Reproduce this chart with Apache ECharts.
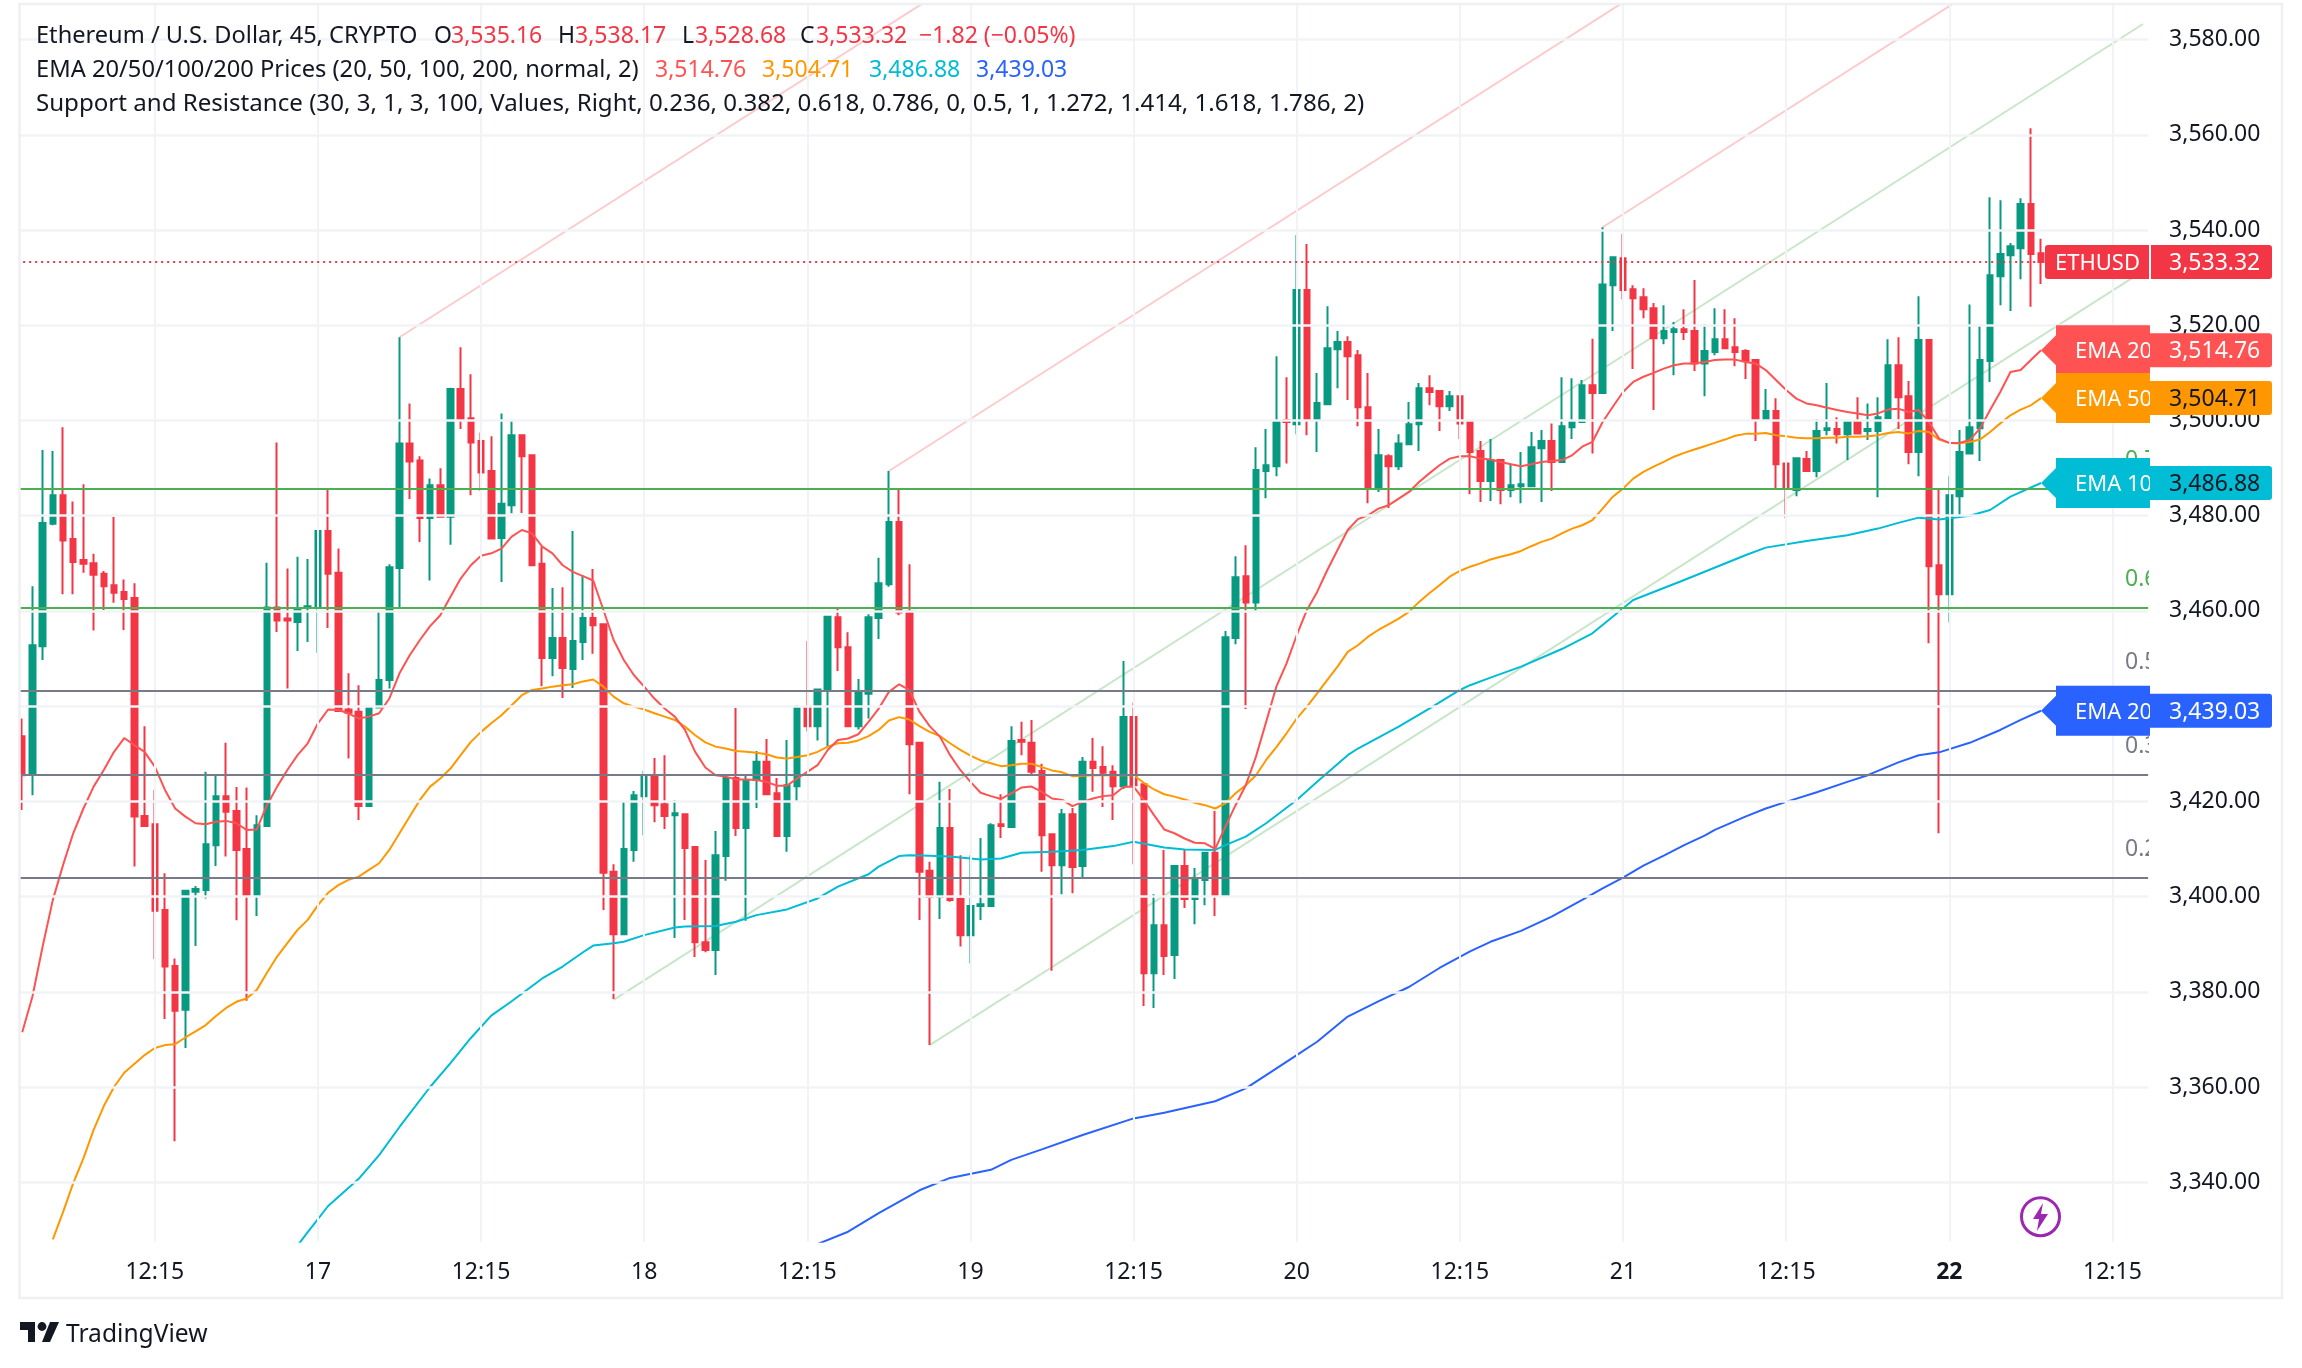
<!DOCTYPE html>
<html>
<head>
<meta charset="utf-8">
<title>ETHUSD 45</title>
<script src="https://cdn.jsdelivr.net/npm/echarts@6/dist/echarts.min.js"></script>
<style>
  html, body { margin: 0; padding: 0; background: #fff; }
  #chart { width: 2302px; height: 1368px; }
</style>
</head>
<body>
<div id="chart"></div>
<script>
// 45 minute candles
const opens = [
  3433.7,3425.7,3452.6,3478.3,3484.3,3475.1,3470.7,3470,3467.8,3465.4,3464,3462.7,3416.9,3415.2,3397.2,3385.4,3376.2,3401,3401.4,3410.8,
  3421.1,3418,3410,3400.3,3414.8,3460.7,3458.4,3457.7,3460.6,3460.6,3476.8,3468,3439.3,3438.8,3419,3439.7,3445.5,3469,3495.2,3491.6,
  3479.5,3486.4,3479.8,3506.6,3500.5,3495.7,3489.4,3475.3,3482.2,3496.9,3492.7,3469.9,3450.1,3454.3,3447.8,3453.5,3458.5,3457.2,3405.2,3392.1,
  3409.8,3421.1,3425.1,3419.4,3417.1,3417.3,3410.4,3390.4,3388.8,3408.5,3424.9,3414.4,3424.5,3428.3,3421.7,3412.7,3423.2,3439.9,3435.8,3443.2,
  3458.7,3452.4,3435.8,3442.6,3458.5,3465.6,3478.7,3459.9,3432.3,3405.4,3399.9,3414.4,3399.5,3391.9,3398,3398,3415.2,3414.6,3432.9,3432.3,
  3426.4,3413.1,3406.6,3417.3,3406.4,3428.3,3427.2,3426.2,3423.2,3437.7,3423.6,3383.9,3394,3387.7,3406.4,3399.5,3403.5,3409.2,3400.3,3454.3,
  3467.3,3461.8,3489.4,3490.4,3500.1,3499.2,3527.4,3500.3,3503.4,3515,3516.5,3513.7,3502.8,3486,3492.5,3490.4,3495,3499.2,3506.8,3506.2,
  3503,3505.1,3499.7,3493.6,3487.3,3491.7,3485.4,3486.2,3486.2,3494.2,3495.7,3491.3,3498.6,3499.7,3507.4,3505.8,3528.4,3534.1,3527.6,3525.9,
  3523.6,3517.3,3518.6,3519.2,3518.8,3512,3514.4,3517.1,3515.4,3514.6,3512.7,3500.1,3502,3491,3485.4,3491.9,3489.4,3498,3498.2,3497.1,
  3499.7,3497.8,3497.8,3500.5,3511.6,3505.1,3493.4,3516.9,3469.6,3463.5,3484.1,3493.1,3498.4,3512.5,3530.3,3534.7,3536.2,3545.5,3535.16
];
const closes = [
  3425.5,3452.8,3478.5,3484.3,3474.8,3470.3,3469.9,3467.6,3465.2,3463.8,3462.5,3416.8,3414.8,3397,3385.3,3376,3401.2,3401.6,3411,3421.1,
  3417.8,3409.8,3400.3,3415,3460.7,3458,3458,3460.5,3461,3476.8,3467.8,3439,3438.6,3419,3439.8,3445.5,3469.2,3495.2,3491.4,3479.5,
  3486.4,3479.8,3506.6,3500.3,3495.4,3489.1,3475.2,3482.5,3496.9,3492.5,3469.6,3450.1,3454.3,3448,3453.7,3458.5,3457,3405,3392.1,3410,
  3421.3,3425.1,3419.2,3416.9,3417.5,3410.2,3390.4,3388.8,3408.7,3424.9,3414.4,3424.5,3428.3,3421.5,3412.7,3423.4,3439.8,3435.8,3443.5,3458.8,
  3452.4,3435.8,3442.8,3458.7,3465.8,3478.7,3459.7,3432,3405.2,3399.9,3414.4,3399.3,3391.9,3398,3398.4,3415,3414.8,3432.7,3432.5,3426.2,
  3412.9,3406.6,3417.3,3406.2,3428.3,3427,3426,3423.2,3437.7,3423.4,3383.9,3394,3387.5,3406.4,3399.5,3403.7,3409.2,3400.3,3454.5,3467.1,
  3461.8,3489.6,3490.6,3499.9,3499.7,3527.4,3500.3,3503.7,3515.2,3516.5,3513.5,3502.8,3486,3492.7,3490.4,3495.2,3499.2,3506.8,3506,3503,
  3505.1,3499.4,3493.4,3487.3,3491.7,3485.4,3486.4,3486.6,3494.4,3495.7,3491.3,3498.8,3499.9,3507.4,3505.8,3528.6,3534.3,3527.4,3525.7,3523.4,
  3517.3,3518.8,3519.2,3518.6,3512,3514.6,3517.1,3515.2,3514.4,3512.5,3500.1,3502,3490.8,3485.6,3492.1,3489.4,3497.8,3498.4,3497.1,3499.7,
  3497.3,3498.2,3500.7,3511.6,3504.9,3493.4,3516.9,3469.4,3463.5,3484.3,3493.4,3498.6,3512.7,3530.5,3535,3536.6,3545.5,3535,3533.32
];
const lows = [
  3418.2,3421.3,3449.7,3478,3463.5,3463.5,3468,3455.9,3460.2,3461.7,3456,3406.3,3414.8,3386.9,3374.3,3348.6,3368.2,3389.6,3399.6,3406.4,
  3408.4,3395,3378.1,3395.9,3414.7,3455.6,3443.7,3451.6,3453.5,3451.2,3456.4,3439,3429,3416.1,3418.9,3439.7,3443.7,3460.5,3483.5,3474.5,
  3466.4,3479.8,3473.9,3498.2,3484.3,3485.2,3475.1,3466.1,3480.5,3480.6,3469.4,3444.2,3446.3,3441.7,3443.8,3449.7,3451,3397.2,3378.5,3392.1,
  3407.3,3412.9,3415.6,3414.2,3391.3,3395.1,3387.3,3388.3,3383.5,3403.3,3412.7,3394.9,3418.6,3421.5,3412.7,3409.4,3419.9,3434.6,3432.8,3431.6,
  3447.4,3435.8,3435.1,3437.4,3454.1,3465.1,3459.1,3421.5,3395.1,3368.8,3395.3,3398.9,3389.5,3386,3395.1,3398,3412.3,3414.6,3429.7,3425.7,
  3405.2,3384.4,3400.5,3400.7,3403.9,3422,3418.8,3416.1,3422.6,3406.8,3377,3376.6,3383.5,3382.7,3397.6,3394.2,3398.2,3395.9,3399.9,3453,
  3439.4,3460,3483.7,3488.3,3491,3497.1,3496.9,3493.4,3503.4,3506.8,3504.3,3498.8,3482.6,3485,3481.6,3489.6,3494.8,3493.6,3503.2,3497.8,
  3502,3496.1,3484.5,3482.9,3483.1,3482.4,3483.9,3482.6,3486,3482.9,3485.2,3491.3,3496.1,3499.7,3493.1,3505.6,3518.8,3525.5,3510.8,3521.5,
  3502.2,3516,3509.5,3516.9,3510.4,3505.1,3513.7,3515.2,3511.4,3508.7,3495.7,3500.1,3485.6,3479.5,3484.1,3489.4,3488.1,3496.9,3495.2,3491.7,
  3497.3,3495.9,3483.9,3500.5,3498.2,3490.8,3488.3,3453.2,3413.3,3457.6,3479.5,3493.1,3491.5,3508.1,3524.2,3523,3529.7,3523.9,3528.68
];
const highs = [
  3437.4,3465.2,3493.8,3493.6,3498.6,3483,3486.6,3472,3468.4,3479.8,3466.6,3465.8,3435.8,3422.4,3404.9,3387,3401.4,3402.2,3426.2,3425.5,
  3432.3,3423,3422.9,3417.1,3470.1,3495.4,3468.9,3471.4,3470.9,3477,3485.4,3473.1,3446.9,3444.4,3439.8,3460,3469.8,3517.5,3503.6,3492.5,
  3487.8,3490,3506.9,3515.4,3509.7,3497.5,3496.7,3501.5,3500,3496.9,3492.9,3473.5,3464.8,3465,3476.8,3467.5,3468.8,3457.2,3406.8,3420,
  3422.2,3426.4,3429.1,3429.7,3420.3,3417.5,3410.4,3407.7,3413.8,3424.9,3439.6,3425.5,3430.6,3433.1,3424.9,3432.9,3440.2,3453.7,3443.7,3458.9,
  3460.7,3455.5,3445.7,3459.3,3471.2,3489.4,3485.8,3469.8,3432.3,3407.3,3424.1,3422.6,3408.7,3408.7,3412.3,3415.4,3421.5,3435.8,3436.7,3437.1,
  3427.9,3413.1,3418.4,3418.6,3429.3,3433.3,3431.6,3427.6,3449.5,3440.7,3423.6,3400.5,3409.8,3406.4,3409.8,3406,3409.4,3418,3455.8,3471.5,
  3473.8,3494.4,3498.2,3513.5,3509.1,3539,3537.1,3510,3524,3518.8,3517.7,3514.8,3510,3498.2,3492.9,3497.1,3503.9,3507.9,3509.5,3506.2,
  3506.2,3505.1,3499.9,3495.7,3496.1,3491.7,3491,3493.4,3497.6,3498,3499.4,3509.1,3508.9,3508.5,3517.2,3540.6,3534.3,3539.2,3528.4,3527.8,
  3524.7,3524.2,3520.7,3523.4,3529.5,3520.2,3523.6,3523.4,3521.5,3515,3512.7,3506.6,3504.7,3491,3492.1,3493.6,3500.3,3507.9,3500.7,3499.7,
  3504.9,3503.6,3504.9,3517.1,3517.5,3508.3,3526.1,3516.9,3485.6,3488.3,3498,3524.4,3520,3546.9,3546.3,3537.3,3546.7,3561.4,3538.17
];

// EMA lines, ema20 has one value per candle, the others are [bar, value]
const ema20 = [
  3371.5,3379,3389.5,3399.3,3406.6,3413.3,3418.5,3423.1,3426.6,3430.4,3433.3,3431.8,3430.4,3427.3,3422.4,3418.5,3416.8,3415.4,3415.2,3415.7,
  3415.9,3415.4,3414,3414.1,3419.2,3423.1,3426.6,3429.7,3432.2,3436.4,3439.3,3439.2,3438.5,3437.4,3437.8,3438.5,3441.6,3446.9,3450.7,3453.9,
  3456.8,3459.1,3463,3466.8,3469.6,3471.6,3472.1,3473.1,3475.6,3477,3476.3,3473.5,3472.1,3469.6,3468.2,3467.3,3466.4,3460.2,3453.9,3449.7,
  3446.5,3444.1,3441.6,3439.5,3437.8,3435,3430.4,3427.1,3425.5,3425.2,3424.6,3424.6,3424.5,3424.1,3423.3,3423.3,3424.8,3426.2,3427.6,3430.8,
  3432.9,3433.2,3434.1,3436.7,3439.5,3443,3444.6,3443.4,3438.8,3435.8,3433.6,3429.7,3426.6,3424.1,3421.8,3421.1,3420.5,3421.7,3422.9,3423.1,
  3422,3420.6,3420.3,3419,3419.9,3420.6,3421.1,3421.3,3423,3423.1,3420.3,3417.1,3414.1,3413.3,3412.2,3411.3,3411.2,3410,3414.7,3419.2,
  3423.4,3429.4,3436.7,3444.1,3449,3454.9,3460.2,3464,3468.6,3472.8,3477,3479.3,3480.1,3481.5,3482.2,3483.6,3485,3487.1,3488.9,3490.6,
  3492,3492.5,3492.5,3492,3491.8,3491.3,3490.8,3490.4,3490.8,3491.3,3491.5,3491.7,3492.7,3494.5,3495.5,3499.7,3502.9,3506,3508.1,3509.2,
  3510,3510.9,3511.6,3512,3512,3512.3,3512.7,3512.8,3512.8,3512.3,3512,3510.6,3508.5,3506.4,3504.6,3503.6,3503.2,3502.7,3502.2,3501.8,
  3501.5,3501.1,3501.5,3502.3,3502.5,3501.8,3502.2,3499.7,3496.2,3495.3,3495.3,3495.9,3498.3,3502.2,3506,3510.2,3510.6,3512.7,3514.76
];
const ema50 = [
  [3,3328],[4,3333.7],[5,3339.8],[6,3345],[7,3351],[8,3356],[9,3360],[10,3363],[12,3366.7],[13,3368.2],[14,3368.8],[15,3369],[16,3370.4],[17,3371.7],[18,3373],
  [19,3374.9],[20,3376.6],[21,3377.9],[22,3378.6],[23,3380.4],[24,3384],[25,3387.4],[26,3390.2],[27,3393],[28,3395.1],[29,3398.2],[30,3400.8],[31,3402.4],[32,3403.5],
  [33,3404.2],[34,3405.6],[35,3407],[36,3409.8],[37,3413.3],[38,3416.8],[39,3420.3],[40,3423.1],[41,3424.8],[42,3426.9],[43,3429.7],[44,3432.5],[45,3434.6],[46,3436.4],
  [47,3438.1],[48,3440.2],[49,3442.3],[50,3443.4],[51,3443.7],[52,3444.1],[53,3444.4],[54,3444.6],[55,3445.2],[56,3445.6],[57,3444.1],[58,3442],[59,3440.6],[60,3439.9],
  [61,3439.3],[62,3438.5],[63,3437.8],[64,3437.1],[65,3435.7],[66,3433.9],[67,3432.4],[68,3431.5],[69,3431.1],[70,3430.6],[71,3430.4],[72,3430.2],[73,3429.9],[74,3429.2],
  [75,3429],[76,3429.3],[77,3429.7],[78,3430.4],[79,3431.5],[80,3432.2],[81,3432.3],[82,3432.8],[83,3433.7],[84,3435],[85,3437],[86,3437.7],[87,3437.2],[88,3435.8],
  [89,3434.6],[90,3433.7],[91,3432.2],[92,3430.8],[93,3429.6],[94,3428.6],[95,3428],[96,3427.4],[97,3427.6],[98,3427.9],[99,3427.9],[100,3427.2],[101,3426.5],[102,3426.1],
  [103,3425.3],[104,3425.4],[105,3425.5],[106,3425.5],[107,3425.5],[108,3425.5],[109,3425.5],[110,3423.9],[111,3422.5],[112,3421.5],[113,3421],[114,3420.4],[115,3419.7],
  [116,3419.2],[117,3418.5],[118,3419.6],[119,3421.7],[120,3423.4],[121,3425.5],[122,3428.7],[123,3431.4],[124,3434.3],[125,3437.4],[126,3439.9],[127,3442.7],[128,3445.5],
  [129,3448.3],[130,3451.4],[131,3452.8],[132,3454.6],[133,3456],[134,3457.2],[135,3458.4],[136,3459.8],[137,3461.9],[138,3463.7],[139,3465.4],[140,3467.2],[141,3468.4],
  [142,3469.3],[143,3470],[144,3470.8],[145,3471.4],[146,3471.9],[147,3472.6],[148,3473.6],[149,3474.5],[150,3475.2],[151,3476.3],[152,3477.3],[153,3478],[154,3479.1],
  [155,3481.5],[156,3484],[157,3485.7],[158,3487.8],[159,3489.2],[160,3490.3],[161,3491.3],[162,3492.4],[163,3493.2],[164,3493.9],[165,3494.6],[166,3495.3],[167,3496],
  [168,3496.8],[169,3497.2],[170,3497.2],[171,3497.4],[172,3496.9],[173,3496.7],[174,3496.4],[175,3496.3],[176,3496.3],[177,3496.4],[178,3496.4],[179,3496.6],[180,3496.6],
  [181,3496.7],[182,3496.9],[183,3497.4],[184,3497.6],[185,3497.3],[186,3497.8],[187,3497.6],[188,3496],[189,3495.3],[190,3495.2],[191,3495.5],[192,3496],[193,3497.6],
  [194,3499.4],[195,3501.1],[196,3502.3],[197,3503.2],[198,3504.71]
];
const ema100 = [
  [27,3326.7],[28,3329.5],[30,3335],[33,3340.7],[35,3345.7],[37,3351.6],[40,3360],[42,3365],[44,3370.3],[46,3375],[48,3378],[51,3382.8],[53,3385.3],[55,3388.3],[56,3389.7],
  [58,3390.2],[59,3390.5],[61,3391.9],[64,3393.5],[65,3393.7],[68,3393.8],[70,3394.7],[72,3396.1],[75,3397.3],[78,3399.6],[80,3402.1],[83,3404.7],[84,3406.3],[86,3408.5],
  [87,3408.7],[89,3408.6],[91,3408.4],[94,3407.8],[96,3408],[98,3409.2],[101,3409.4],[104,3409.8],[107,3410.6],[109,3411.5],[112,3410.3],[114,3409.9],[117,3409.8],[118,3410.8],
  [120,3412.6],[122,3415.4],[125,3420.3],[127,3424.1],[130,3429.7],[131,3431.1],[135,3435.7],[138,3439.5],[141,3443.4],[142,3444.4],[144,3446],[147,3448.3],[151,3452],
  [154,3455.3],[158,3462.3],[163,3466.5],[169,3471.7],[171,3473.3],[175,3474.7],[179,3475.9],[182,3477.3],[184,3478.5],[186,3479.6],[188,3479.2],[191,3480],[193,3481.2],
  [195,3484],[198,3486.88]
];
const ema200 = [
  [78,3327],[81,3329.6],[84,3333.5],[88,3338.3],[91,3340.9],[95,3342.6],[97,3344.7],[100,3346.9],[104,3349.9],[109,3353.4],[112,3354.6],[117,3357],[120,3359.7],[122,3362.5],
  [125,3366.7],[127,3369.5],[130,3374.8],[133,3378],[136,3381],[139,3385],[142,3388.5],[144,3390.5],[147,3392.8],[150,3395.8],[153,3399.3],[155,3401.7],[157,3404],[159,3406.5],
  [161,3408.6],[163,3410.8],[165,3412.8],[166,3414],[169,3416.8],[171,3418.5],[173,3419.9],[176,3421.9],[179,3424.1],[181,3425.5],[184,3428.2],[186,3429.7],[188,3430.3],
  [191,3432.3],[194,3435],[196,3437.1],[198,3439.03]
];

// Diagonal channel lines, [bar, value] ends, they run out of the pane
const resistanceLines = [
  [[37,3517.5],[100,3603.6]],
  [[85,3489.4],[170,3605.6]],
  [[155,3540.6],[208,3613]]
];
const supportLines = [
  [[58,3378.3],[208,3583.3]],
  [[89,3368.8],[208,3531.4]]
];

// Horizontal levels of the indicator
const levelValues = [3485.6, 3460.6, 3443.2, 3425.5, 3403.9];
const levelLabels = ['0.786', '0.618', '0.5', '0.382', '0.236'];
const levelColors = ['#4caf50', '#4caf50', '#787b86', '#787b86', '#787b86'];

// Axes
const priceTicks = [3340,3360,3380,3400,3420,3440,3460,3480,3500,3520,3540,3560,3580];
const timeTickBars = [13,29,45,61,77,93,109,125,141,157,173,189,205];
const timeTickLabels = ['12:15','17','12:15','18','12:15','19','12:15','20','12:15','21','12:15','22','12:15'];
const barCount = 209;
const categories = [];
for (let i = 0; i < barCount; i++) {
  const t = timeTickBars.indexOf(i);
  categories.push(t >= 0 ? timeTickLabels[t] : 'b' + i);
}

// Price tags at the right edge
const lastPrice = 3533.32;
const tagNames = ['EMA 200', 'EMA 100', 'EMA 20', 'EMA 50'];
const tagValues = [3439.03, 3486.88, 3514.76, 3504.71];
const tagColors = ['#2962ff', '#00bcd4', '#ff5252', '#ff9800'];
const tagValueText = ['#ffffff', '#131722', '#ffffff', '#131722'];

const FONT = '"Noto Sans", sans-serif';
const TEXT = '#131722';
const UP = '#089981';
const DOWN = '#f23645';
const GRID_LINE = '#f2f3f6';
const TEXT_DROP = 1.5; // Noto sits a bit high in the middle of its box

const chart = echarts.init(document.getElementById('chart'));

function fmt(v) {
  return v.toLocaleString('en-US', { minimumFractionDigits: 2, maximumFractionDigits: 2 });
}

function legendText(x, y, text, fill, size) {
  return {
    type: 'text', x: x, y: y + TEXT_DROP, z: 100,
    style: { text: text, fill: fill || TEXT, font: (size || 23) + 'px ' + FONT, textVerticalAlign: 'middle' }
  };
}

function renderTag(params, api) {
  const i = params.dataIndex;
  const y = api.coord([api.value(0), api.value(1)])[1];
  const c = tagColors[i];
  return {
    type: 'group',
    children: [
      {
        type: 'polygon',
        shape: { points: [[2041, y], [2056, y - 15], [2056, y - 25], [2150, y - 25], [2150, y + 25], [2056, y + 25], [2056, y + 15]] },
        style: { fill: c }
      },
      {
        type: 'text',
        style: { text: tagNames[i], x: 2075, y: y + TEXT_DROP, fill: '#fff', font: '22px ' + FONT, textVerticalAlign: 'middle' }
      },
      {
        type: 'rect',
        shape: { x: 2150, y: y - 17, width: 122, height: 34, r: [0, 3, 3, 0] },
        style: { fill: c }
      },
      {
        type: 'text',
        style: { text: fmt(tagValues[i]), x: 2169, y: y + TEXT_DROP, fill: tagValueText[i], font: '23px ' + FONT, textVerticalAlign: 'middle' }
      }
    ]
  };
}

function renderLastPrice(params, api) {
  const y = api.coord([api.value(0), api.value(1)])[1];
  return {
    type: 'group',
    children: [
      { type: 'rect', shape: { x: 2045, y: y - 17, width: 104, height: 34, r: [3, 0, 0, 3] }, style: { fill: DOWN } },
      { type: 'text', style: { text: 'ETHUSD', x: 2055, y: y + TEXT_DROP, fill: '#fff', font: '22px ' + FONT, textVerticalAlign: 'middle' } },
      { type: 'rect', shape: { x: 2151, y: y - 17, width: 121, height: 34, r: [0, 3, 3, 0] }, style: { fill: DOWN } },
      { type: 'text', style: { text: fmt(lastPrice), x: 2169, y: y + TEXT_DROP, fill: '#fff', font: '23px ' + FONT, textVerticalAlign: 'middle' } }
    ]
  };
}

function renderLevelLabel(params, api) {
  const i = params.dataIndex;
  const y = api.coord([api.value(0), api.value(1)])[1];
  return {
    type: 'text',
    style: { text: levelLabels[i], x: 2125, y: y - 30 + TEXT_DROP, fill: levelColors[i], font: '23px ' + FONT, textVerticalAlign: 'middle' }
  };
}

const option = {
  backgroundColor: '#ffffff',
  animation: false,
  grid: { left: 17.15, top: 4, width: 2130.96, height: 1237.7 },
  xAxis: {
    type: 'category',
    data: categories,
    boundaryGap: true,
    axisLine: { show: false },
    axisTick: { show: false },
    splitLine: { show: false },
    axisLabel: {
      color: TEXT,
      fontFamily: FONT,
      fontSize: 23,
      margin: 19,
      hideOverlap: false,
      interval: (index) => timeTickBars.indexOf(index) >= 0,
      formatter: (value) => (value === '22' ? '{b|22}' : value),
      rich: { b: { fontFamily: FONT, fontSize: 23, fontWeight: 'bold', color: TEXT } }
    }
  },
  yAxis: {
    type: 'value',
    position: 'right',
    min: 3327.5,
    max: 3587.5,
    axisLine: { show: false },
    axisTick: { show: false },
    splitLine: { show: false },
    axisLabel: {
      customValues: priceTicks,
      color: TEXT,
      fontFamily: FONT,
      fontSize: 23,
      margin: 21,
      padding: [3, 0, 0, 0],
      formatter: (v) => fmt(v)
    }
  },
  graphic: [
    { type: 'rect', z: 90, shape: { x: 0, y: 0, width: 19, height: 1300 }, style: { fill: '#fff' } },
    { type: 'rect', z: 91, shape: { x: 19.5, y: 4, width: 2262.5, height: 1294 }, style: { fill: 'none', stroke: '#eff0f4', lineWidth: 2.5 } },
    legendText(36, 35, 'Ethereum / U.S. Dollar, 45, CRYPTO', TEXT, 23.6),
    legendText(434, 35, 'O'),
    legendText(451, 35, '3,535.16', DOWN),
    legendText(558, 35, 'H'),
    legendText(575, 35, '3,538.17', DOWN),
    legendText(682, 35, 'L'),
    legendText(695, 35, '3,528.68', DOWN),
    legendText(800, 35, 'C'),
    legendText(816, 35, '3,533.32', DOWN),
    legendText(919, 35, '\u22121.82 (\u22120.05%)', DOWN),
    legendText(36, 69, 'EMA 20/50/100/200 Prices (20, 50, 100, 200, normal, 2)', TEXT, 23.7),
    legendText(655, 69, '3,514.76', '#ff5252'),
    legendText(762, 69, '3,504.71', '#ff9800'),
    legendText(869, 69, '3,486.88', '#00bcd4'),
    legendText(976, 69, '3,439.03', '#2962ff'),
    legendText(36, 103, 'Support and Resistance (30, 3, 1, 3, 100, Values, Right, 0.236, 0.382, 0.618, 0.786, 0, 0.5, 1, 1.272, 1.414, 1.618, 1.786, 2)', TEXT, 24.1),
    // TradingView mark and name
    { type: 'polygon', z: 100, shape: { points: [[20, 1322], [35, 1322], [35, 1342], [28, 1342], [28, 1330], [20, 1330]] }, style: { fill: TEXT } },
    { type: 'polygon', z: 100, shape: { points: [[50, 1322], [59, 1322], [50, 1342], [42, 1342]] }, style: { fill: TEXT } },
    { type: 'circle', z: 100, shape: { cx: 42, cy: 1326.5, r: 4.4 }, style: { fill: TEXT } },
    { type: 'text', z: 100, x: 66, y: 1334.5, style: { text: 'TradingView', fill: TEXT, font: '24.6px ' + FONT, textVerticalAlign: 'middle' } },
    // lightning badge
    { type: 'circle', z: 100, shape: { cx: 2040.5, cy: 1216.7, r: 19 }, style: { fill: '#fff', stroke: '#9c27b0', lineWidth: 3 } },
    {
      type: 'polygon', z: 100,
      shape: { points: [[2043, 1203], [2033, 1219], [2039, 1219], [2037, 1231], [2048, 1214], [2041, 1214]] },
      style: { fill: '#9c27b0' }
    }
  ],
  series: [
    {
      // vertical and horizontal grid plus the levels, under the candles
      type: 'line',
      z: 1,
      data: [],
      markLine: {
        silent: true,
        symbol: 'none',
        label: { show: false },
        animation: false,
        data: timeTickBars.map((b) => ({ xAxis: b, lineStyle: { color: GRID_LINE, width: 2, type: 'solid' } }))
          .concat(priceTicks.map((v) => ({ yAxis: v, lineStyle: { color: GRID_LINE, width: 2.5, type: 'solid' } })))
          .concat(levelValues.map((v, i) => ({ yAxis: v, lineStyle: { color: levelColors[i], width: 2, type: 'solid' } })))
      }
    },
    ...resistanceLines.map((d) => ({
      type: 'line', z: 2, data: d, symbol: 'none', lineStyle: { color: '#fccbcd', width: 2 }
    })),
    ...supportLines.map((d) => ({
      type: 'line', z: 2, data: d, symbol: 'none', lineStyle: { color: '#c8e6c9', width: 2 }
    })),
    {
      type: 'candlestick',
      z: 3,
      barWidth: 6,
      data: opens.map((o, i) => [o, closes[i], lows[i], highs[i]]),
      itemStyle: { color: UP, color0: DOWN, borderColor: UP, borderColor0: DOWN, borderWidth: 2 }
    },
    { type: 'line', z: 4, data: ema200, symbol: 'none', lineStyle: { color: '#2962ff', width: 2 } },
    { type: 'line', z: 4, data: ema100, symbol: 'none', lineStyle: { color: '#00bcd4', width: 2 } },
    { type: 'line', z: 4, data: ema50, symbol: 'none', lineStyle: { color: '#ff9800', width: 2 } },
    { type: 'line', z: 4, data: ema20.map((v, i) => [i, v]), symbol: 'none', lineStyle: { color: '#ff5252', width: 2 } },
    {
      type: 'line',
      z: 4,
      data: [],
      markLine: {
        silent: true,
        symbol: 'none',
        label: { show: false },
        animation: false,
        data: [{ yAxis: lastPrice, lineStyle: { color: DOWN, width: 2, type: [2, 4] } }]
      }
    },
    {
      type: 'custom',
      z: 5,
      clip: true,
      data: levelValues.map((v) => [198, v]),
      renderItem: renderLevelLabel
    },
    {
      type: 'custom',
      z: 6,
      clip: false,
      data: tagValues.map((v) => [198, v]),
      renderItem: renderTag
    },
    {
      type: 'custom',
      z: 7,
      clip: false,
      data: [[198, lastPrice]],
      renderItem: renderLastPrice
    }
  ]
};

chart.setOption(option);
</script>
</body>
</html>
